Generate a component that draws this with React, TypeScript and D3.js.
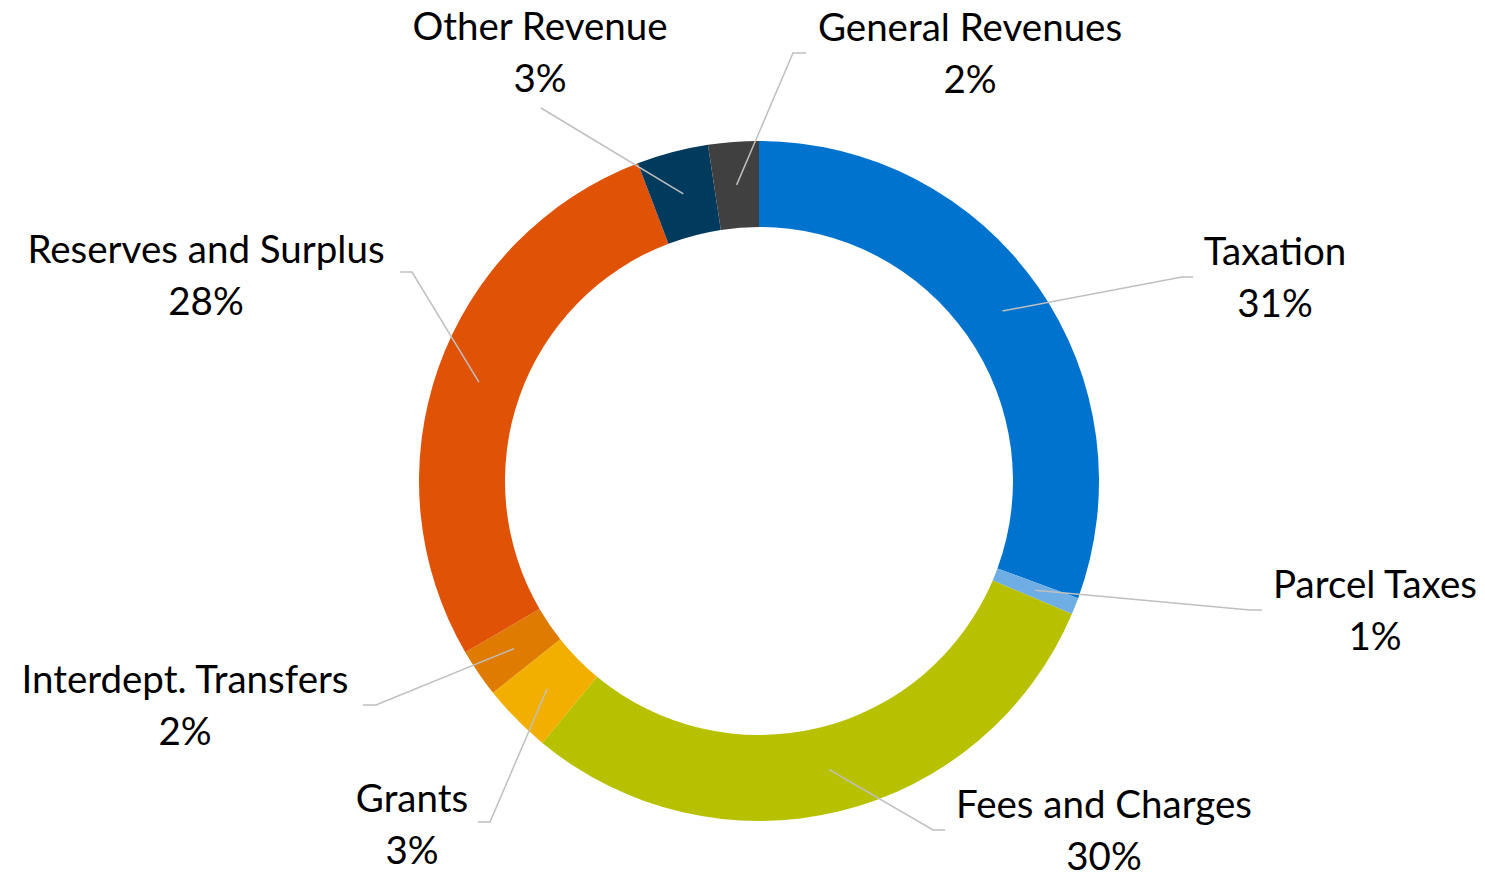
import React from "react";
import * as d3 from "d3";

const categories = ["Taxation", "Parcel Taxes", "Fees and Charges", "Grants", "Interdept. Transfers", "Reserves and Surplus", "Other Revenue", "General Revenues"];
const values = [30.6, 0.8, 29.6, 3.3, 2.3, 27.6, 3.4, 2.4];
const colors = ["#0073CF", "#6FAEE4", "#B8C100", "#F2AF00", "#DE7B00", "#E05206", "#003A5D", "#404041"];

// label layout: center x, first baseline y, elbow point, horizontal end
const labelLayout = [
  { x: 1275, y: 265, elbow: [1182, 277], end: [1193, 277] },
  { x: 1375, y: 598, elbow: [1250, 610], end: [1262, 610] },
  { x: 1104, y: 818, elbow: [933, 830], end: [945, 830] },
  { x: 412, y: 812, elbow: [490, 822], end: [478, 822] },
  { x: 185, y: 693, elbow: [376, 705], end: [363, 705] },
  { x: 206, y: 263, elbow: [412, 272], end: [400, 272] },
  { x: 540, y: 40, elbow: [541, 108], end: [541, 108] },
  { x: 970, y: 41, elbow: [793, 53], end: [806, 53] },
];

const W = 1485;
const H = 877;
const cx = 759;
const cy = 481;
const outerR = 340;
const innerR = 254;
const lineGap = 52;

export default function App() {
  const pie = d3.pie<number>().value((d) => d).sort(null);
  const arcs = pie(values);
  const arc = d3.arc<d3.PieArcDatum<number>>().innerRadius(innerR).outerRadius(outerR);
  const mid = d3.arc<d3.PieArcDatum<number>>().innerRadius((innerR + outerR) / 2).outerRadius((innerR + outerR) / 2);
  const total = d3.sum(values);
  return (
    <svg width={W} height={H} style={{ position: "absolute", left: 0, top: 0, background: "#fff" }}>
      <g transform={`translate(${cx},${cy})`}>
        {arcs.map((a, i) => (
          <path key={i} d={arc(a) as string} fill={colors[i]} />
        ))}
      </g>
      {arcs.map((a, i) => {
        const [mx, my] = mid.centroid(a);
        const L = labelLayout[i];
        const pts = [[cx + mx, cy + my], L.elbow, L.end];
        return (
          <polyline key={"l" + i} points={pts.map((p) => p.join(",")).join(" ")} fill="none" stroke="#BFBFBF" strokeWidth={1.5} />
        );
      })}
      {categories.map((c, i) => {
        const L = labelLayout[i];
        return (
          <text key={"t" + i} x={L.x} y={L.y} textAnchor="middle" fontFamily="Lato, 'Open Sans', sans-serif" fontSize={38.5} fill="#000">
            <tspan x={L.x} y={L.y}>{c}</tspan>
            <tspan x={L.x} y={L.y + lineGap}>{Math.round((values[i] / total) * 100)}%</tspan>
          </text>
        );
      })}
    </svg>
  );
}
